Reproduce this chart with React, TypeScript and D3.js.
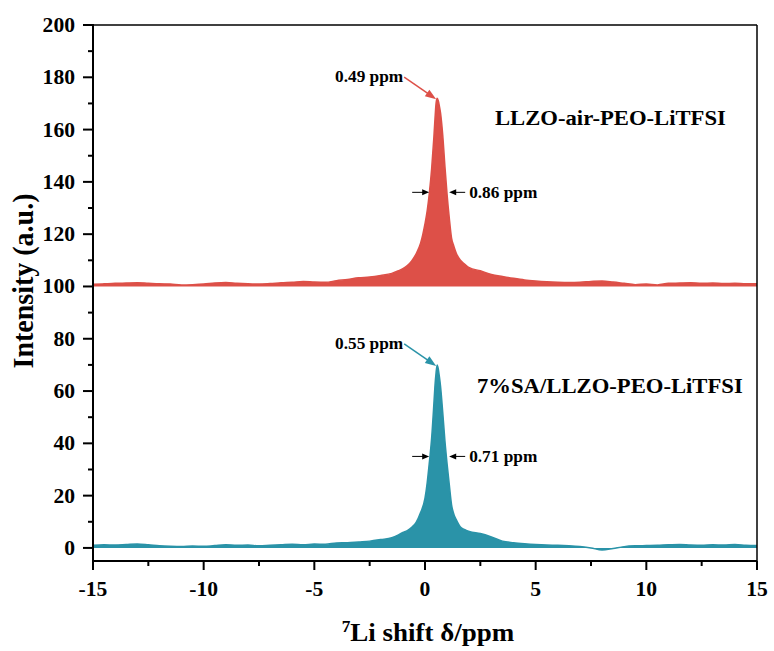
import React from "react";
import * as d3 from "d3";

const shift = [-15,-14.5,-14,-13.5,-13,-12.5,-12,-11.5,-11,-10.5,-10,-9.5,-9,-8.5,-8,-7.5,-7,-6.5,-6,-5.5,-5,-4.5,-4,-3.5,-3,-2.5,-2,-1.5,-1.2,-1.0,-0.8,-0.6,-0.4,-0.2,0,0.1,0.2,0.3,0.4,0.45,0.5,0.55,0.6,0.65,0.7,0.8,0.9,1.0,1.1,1.2,1.3,1.4,1.6,1.8,2.0,2.5,3.0,3.5,4.0,4.5,5.0,5.5,6.0,6.5,7.0,7.5,8.0,8.5,9.0,9.5,10,10.5,11,11.5,12,12.5,13,13.5,14,14.5,15];

const airSeries = [100.8,101.0,101.2,101.3,101.4,101.2,101.0,100.9,100.6,100.7,100.9,101.3,101.5,101.2,101.0,100.9,101.1,101.4,101.6,101.9,101.7,101.6,102.2,102.7,103.3,103.6,104.2,105.0,
106.0,106.8,108.0,109.8,112.5,116.5,
124,129,136,145,157,164,170,172,171,169,166.5,
158,146,135,126,118.5,115.5,113,110,108.5,107.2,
106.0,104.6,103.8,103.1,102.5,102.1,101.8,101.6,101.5,101.6,101.9,102.1,101.7,101.2,100.7,100.9,100.6,101.2,101.3,101.4,101.2,101.3,101.1,101.2,101.0,101.0];

const saSeries = [1.0,1.2,1.1,1.3,1.5,1.2,0.8,0.6,0.5,0.7,0.6,0.9,1.2,1.0,1.1,0.8,1.0,1.2,1.4,1.2,1.5,1.4,1.9,2.0,2.3,2.6,3.2,3.9,
5.0,5.9,6.6,7.9,9.8,13.5,
19,25,33,42,55,62,67,70,68.5,65.5,62,
52,41,32,24,16.5,13,11,8.0,7.0,6.3,
5.5,4.2,2.6,2.0,1.6,1.3,1.1,1.0,0.8,0.5,0.0,-0.8,-0.2,0.5,0.8,0.9,1.0,1.2,1.3,1.1,1.0,1.2,1.1,1.3,1.0,0.9];

const xTicks = [-15, -10, -5, 0, 5, 10, 15];
const xMinor = [-12.5, -7.5, -2.5, 2.5, 7.5, 12.5];
const yTicks = [0, 20, 40, 60, 80, 100, 120, 140, 160, 180, 200];
const yMinor = [10, 30, 50, 70, 90, 110, 130, 150, 170, 190];

const airLabel = "LLZO-air-PEO-LiTFSI";
const saLabel = "7%SA/LLZO-PEO-LiTFSI";
const airPeak = { x: 0.55, y: 172, label: "0.49 ppm", fwhm: "0.86 ppm", halfY: 136 };
const saPeak = { x: 0.55, y: 70, label: "0.55 ppm", fwhm: "0.71 ppm", halfY: 35 };

const RED = "#DD5048";
const TEAL = "#2A93A8";
const FONT = "Liberation Serif, Times New Roman, serif";
const SX = 1.08;

function T(props: { x: number; y: number; size: number; anchor?: string; children: React.ReactNode }) {
  return (
    <text
      transform={`translate(${props.x},${props.y}) scale(${SX},1)`}
      textAnchor={props.anchor || "start"}
      style={{ fontFamily: FONT, fontWeight: "bold", fontSize: props.size }}
      fill="#000"
    >
      {props.children}
    </text>
  );
}

export default function App() {
  const W = 774, H = 651;
  const m = { left: 93, right: 17, top: 25, bottom: 90 };
  const x = d3.scaleLinear().domain([-15, 15]).range([m.left, W - m.right]);
  const y = d3.scaleLinear().domain([-5, 200]).range([H - m.bottom, m.top]);

  const mk = (vals: number[], base: number) => {
    const pts = shift.map((s, i) => [s, vals[i]] as [number, number]);
    const area = d3.area<[number, number]>().x(d => x(d[0])).y0(y(base)).y1(d => y(d[1])).curve(d3.curveMonotoneX)(pts) || "";
    const line = d3.line<[number, number]>().x(d => x(d[0])).y(d => y(d[1])).curve(d3.curveMonotoneX)(pts) || "";
    return { area, line };
  };
  const air = mk(airSeries, 100);
  const sa = mk(saSeries, 0);

  const x0 = m.left, x1 = W - m.right, y0 = H - m.bottom, y1 = m.top;

  const arrowHead = (tx: number, ty: number, fx: number, fy: number, len: number, half: number) => {
    const ang = Math.atan2(ty - fy, tx - fx);
    const bx = tx - len * Math.cos(ang), by = ty - len * Math.sin(ang);
    const px = -Math.sin(ang) * half, py = Math.cos(ang) * half;
    return `M${tx},${ty}L${bx + px},${by + py}L${bx - px},${by - py}Z`;
  };

  const peakAnno = (p: typeof airPeak, color: string) => {
    const tx = x(p.x) - 1, ty = y(p.y) + 1;
    const fx = tx - 32, fy = ty - 22;
    const ang = Math.atan2(ty - fy, tx - fx);
    const hy = y(p.halfY);
    const lx = x(p.x) - 8, rx = x(p.x) + 12;
    return (
      <g>
        <T x={fx - 1} y={fy + 5} size={16} anchor="end">{p.label}</T>
        <line x1={fx} y1={fy} x2={tx - 8 * Math.cos(ang)} y2={ty - 8 * Math.sin(ang)} stroke={color} strokeWidth={1.5} />
        <path d={arrowHead(tx, ty, fx, fy, 11, 4)} fill={color} />
        <line x1={lx - 17} y1={hy} x2={lx - 4} y2={hy} stroke="#000" strokeWidth={1} />
        <path d={arrowHead(lx, hy, lx - 17, hy, 7, 3)} fill="#000" />
        <line x1={rx + 16} y1={hy} x2={rx + 4} y2={hy} stroke="#000" strokeWidth={1} />
        <path d={arrowHead(rx, hy, rx + 16, hy, 7, 3)} fill="#000" />
        <T x={rx + 20} y={hy + 6} size={16}>{p.fwhm}</T>
      </g>
    );
  };

  return (
    <svg width={W} height={H} style={{ position: "absolute", left: 0, top: 0, background: "#fff" }}>
      <path d={air.area} fill={RED} />
      <path d={air.line} fill="none" stroke={RED} strokeWidth={1.5} />
      <path d={sa.area} fill={TEAL} />
      <path d={sa.line} fill="none" stroke={TEAL} strokeWidth={1.5} />

      <line x1={x0} y1={y1} x2={x1} y2={y1} stroke="#000" strokeWidth={1.5} />
      <line x1={x1} y1={y1} x2={x1} y2={y0} stroke="#000" strokeWidth={1.5} />
      <line x1={x0} y1={y0} x2={x1} y2={y0} stroke="#000" strokeWidth={2} />
      <line x1={x0} y1={y1 - 1} x2={x0} y2={y0 + 1} stroke="#000" strokeWidth={2} />

      {xTicks.map(t => (
        <g key={"xt" + t}>
          <line x1={x(t)} x2={x(t)} y1={y0} y2={y0 + 9} stroke="#000" strokeWidth={2} />
          <T x={x(t)} y={y0 + 35} size={20} anchor="middle">{t}</T>
        </g>
      ))}
      {xMinor.map(t => (
        <line key={"xm" + t} x1={x(t)} x2={x(t)} y1={y0} y2={y0 + 5} stroke="#000" strokeWidth={2} />
      ))}
      {yTicks.map(t => (
        <g key={"yt" + t}>
          <line x1={x0 - 10} x2={x0} y1={y(t)} y2={y(t)} stroke="#000" strokeWidth={2} />
          <T x={x0 - 18} y={y(t) + 7} size={20} anchor="end">{t}</T>
        </g>
      ))}
      {yMinor.map(t => (
        <line key={"ym" + t} x1={x0 - 5} x2={x0} y1={y(t)} y2={y(t)} stroke="#000" strokeWidth={2} />
      ))}

      <text transform={`translate(${(x0 + x1) / 2 + 3},641) scale(${SX},1)`} textAnchor="middle"
        style={{ fontFamily: FONT, fontWeight: "bold", fontSize: 25 }}>
        <tspan style={{ fontSize: 16 }} dy={-9}>7</tspan>
        <tspan dy={9}>Li shift δ/ppm</tspan>
      </text>
      <text transform={`translate(33,281) rotate(-90) scale(1,${SX})`} textAnchor="middle"
        style={{ fontFamily: FONT, fontWeight: "bold", fontSize: 28 }}>Intensity (a.u.)</text>

      <T x={495} y={125} size={21}>{airLabel}</T>
      <T x={477} y={393} size={21}>{saLabel}</T>

      {peakAnno(airPeak, RED)}
      {peakAnno(saPeak, TEAL)}
    </svg>
  );
}
